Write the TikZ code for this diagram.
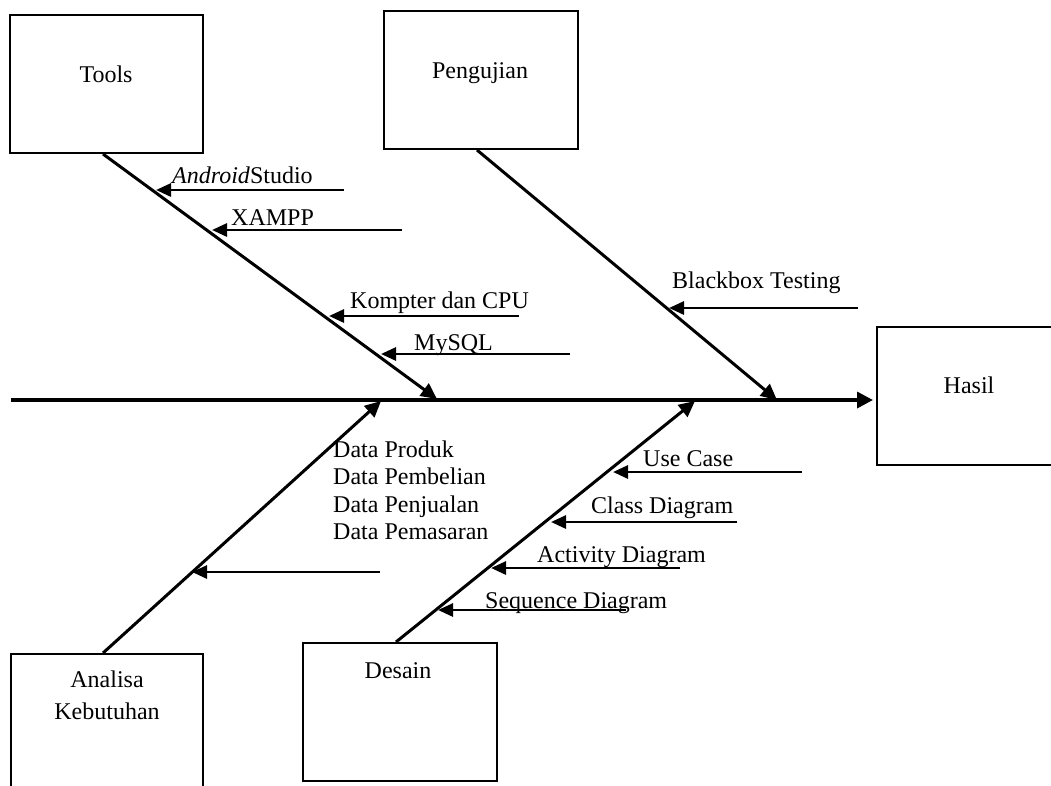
\documentclass[tikz,border=0pt]{standalone}
\usepackage{fontspec}
\setmainfont{Liberation Serif}
\usetikzlibrary{arrows.meta}
\begin{document}
\begin{tikzpicture}[x=1pt,y=-1pt,
  every node/.style={font=\fontsize{24}{27.6}\selectfont},
  box/.style={draw,line width=2pt,inner sep=0pt,anchor=north west},
  txt/.style={anchor=base west,inner sep=0pt},
  ctxt/.style={anchor=base,inner sep=0pt},
  spine/.style={line width=3.4pt,-{Triangle[length=16pt,width=16pt]}},
  bone/.style={line width=3pt,-{Triangle[length=16pt,width=15pt]}},
  branch/.style={line width=2.8pt,-{Triangle[length=15pt,width=13pt]}}]
\useasboundingbox (0,0) rectangle (1051,785);
\clip (0,0) rectangle (1051,785);
% boxes
\node[box,minimum width=193pt,minimum height=138pt] (tools) at (9,14) {};
\node[box,minimum width=194pt,minimum height=138pt] (peng) at (383,10) {};
\node[box,minimum width=190pt,minimum height=138pt] (hasil) at (876,326) {};
\node[box,minimum width=192pt,minimum height=150pt] (anal) at (10,653) {};
\node[box,minimum width=194pt,minimum height=138pt] (des) at (302,642) {};
% box texts
\node[ctxt] (ttools) at (106,82) {Tools};
\node[ctxt] (tpeng) at (480,78) {Pengujian};
\node[ctxt] (thasil) at (969,393) {Hasil};
\node[ctxt] (tanal1) at (107,687) {Analisa};
\node[ctxt] (tanal2) at (107,719) {Kebutuhan};
\node[ctxt] (tdes) at (398,678) {Desain};
% spine
\coordinate (spineL) at (11,400);
\coordinate (spineR) at (873,400);
\draw[spine] (spineL) -- (spineR);
% bone ends on spine
\coordinate (tEnd) at (437,399);
\coordinate (pEnd) at (777,400);
\coordinate (aEnd) at (381,401);
\coordinate (dEnd) at (695,401);
\draw[bone] ([xshift=-3.5pt]tools.south) -- (tEnd);
\draw[bone] ([xshift=-4pt]peng.south) -- (pEnd);
\draw[bone] ([xshift=-4pt]anal.north) -- (aEnd);
\draw[bone] ([xshift=-4pt]des.north) -- (dEnd);
% Tools branches
\coordinate (b1s) at (344,190); \coordinate (b1e) at (156,190);
\coordinate (b2s) at (402,230); \coordinate (b2e) at (212,230);
\coordinate (b3s) at (519,316); \coordinate (b3e) at (329,316);
\coordinate (b4s) at (570,354); \coordinate (b4e) at (381,354);
\draw[branch] (b1s) -- (b1e);
\draw[branch] (b2s) -- (b2e);
\draw[branch] (b3s) -- (b3e);
\draw[branch] (b4s) -- (b4e);
\node[txt] (l1) at (172,183) {\textit{Android}Studio};
\node[txt] (l2) at (231,225) {XAMPP};
\node[txt] (l3) at (350,308) {Kompter dan CPU};
\node[txt] (l4) at (414,350) {MySQL};
% Pengujian branch
\coordinate (b5s) at (858,308); \coordinate (b5e) at (669,308);
\draw[branch] (b5s) -- (b5e);
\node[txt] (l5) at (672,288) {Blackbox Testing};
% Analisa branch
\coordinate (b6s) at (380,572); \coordinate (b6e) at (192,572);
\draw[branch] (b6s) -- (b6e);
\node[txt] (d1) at (333,457) {Data Produk};
\node[txt] (d2) at (333,484) {Data Pembelian};
\node[txt] (d3) at (333,512) {Data Penjualan};
\node[txt] (d4) at (333,539) {Data Pemasaran};
% Desain branches
\coordinate (b7s) at (802,472); \coordinate (b7e) at (613,472);
\coordinate (b8s) at (737,522); \coordinate (b8e) at (551,522);
\coordinate (b9s) at (680,568); \coordinate (b9e) at (491,568);
\coordinate (b10s) at (626,610); \coordinate (b10e) at (438,610);
\draw[branch] (b7s) -- (b7e);
\draw[branch] (b8s) -- (b8e);
\draw[branch] (b9s) -- (b9e);
\draw[branch] (b10s) -- (b10e);
\node[txt] (l7) at (643,466) {Use Case};
\node[txt] (l8) at (591,513) {Class Diagram};
\node[txt] (l9) at (537,562) {Activity Diagram};
\node[txt] (l10) at (485,608) {Sequence Diagram};
\end{tikzpicture}
\end{document}
